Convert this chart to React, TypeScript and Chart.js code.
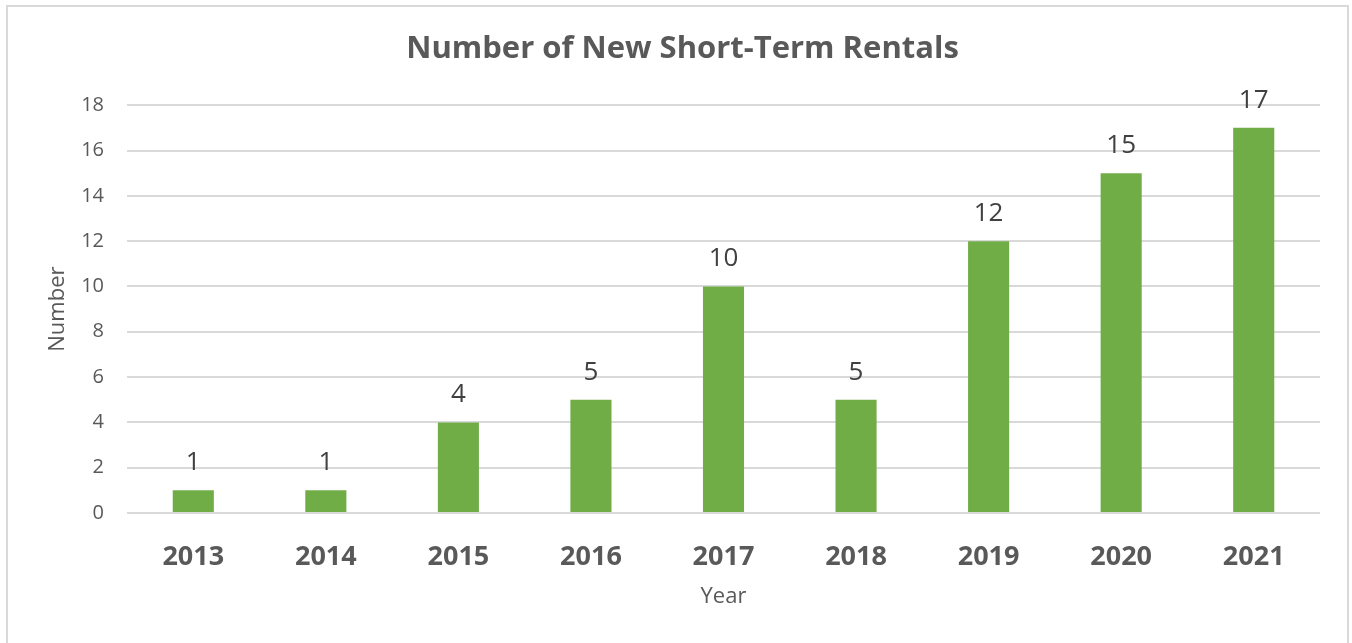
import React, { useEffect, useRef } from "react";
import { Chart, registerables } from "chart.js";

Chart.register(...registerables);

const years = ["2013", "2014", "2015", "2016", "2017", "2018", "2019", "2020", "2021"];
const counts = [1, 1, 4, 5, 10, 5, 12, 15, 17];
const yTicks = { min: 0, max: 18, step: 2 };
const titleText = "Number of New Short-Term Rentals";
const xTitle = "Year";
const yTitle = "Number";

const FONT = "'Open Sans', 'DejaVu Sans', sans-serif";

const dataLabels = {
  id: "dataLabels",
  afterDatasetsDraw(chart: any) {
    const ctx = chart.ctx;
    const meta = chart.getDatasetMeta(0);
    ctx.save();
    ctx.font = `26px ${FONT}`;
    ctx.fillStyle = "#404040";
    ctx.textAlign = "center";
    ctx.textBaseline = "alphabetic";
    meta.data.forEach((bar: any, i: number) => {
      ctx.fillText(String(chart.data.datasets[0].data[i]), bar.x, bar.y - 20);
    });
    ctx.restore();
  },
};

export default function App() {
  const ref = useRef<HTMLCanvasElement>(null);
  useEffect(() => {
    if (!ref.current) return;
    const chart = new Chart(ref.current, {
      type: "bar",
      data: {
        labels: years,
        datasets: [
          {
            data: counts,
            backgroundColor: "#70AD47",
            barPercentage: 0.31,
            categoryPercentage: 1,
          },
        ],
      },
      plugins: [dataLabels],
      options: {
        responsive: false,
        animation: false,
        layout: { padding: { left: 45, right: 32, top: 0, bottom: 31 } },
        plugins: {
          legend: { display: false },
          tooltip: { enabled: false },
          title: {
            display: true,
            text: titleText,
            color: "#595959",
            font: { family: FONT, size: 31, weight: "bold", lineHeight: 1.2 },
            padding: { top: 31, bottom: 37 },
          },
        },
        scales: {
          x: {
            grid: { display: false },
            border: { display: false },
            ticks: {
              color: "#595959",
              font: { family: FONT, size: 27, weight: "bold" },
              padding: 20,
              maxRotation: 0,
            },
            title: {
              display: true,
              text: xTitle,
              color: "#595959",
              font: { family: FONT, size: 22 },
              padding: { top: 0, bottom: 2 },
            },
            afterFit: (s: any) => {
              s.height = 99;
            },
          },
          y: {
            min: yTicks.min,
            max: yTicks.max,
            grid: { color: "#D9D9D9", lineWidth: 2, drawTicks: false },
            border: { display: false },
            ticks: {
              stepSize: yTicks.step,
              color: "#595959",
              font: { family: FONT, size: 20 },
              padding: 23,
            },
            title: {
              display: true,
              text: yTitle,
              color: "#595959",
              font: { family: FONT, size: 22 },
              padding: 0,
            },
            afterFit: (s: any) => {
              s.width = 82;
            },
          },
        },
      },
    });
    return () => chart.destroy();
  }, []);

  return (
    <div style={{ position: "absolute", left: 0, top: 0, width: 1352, height: 643, overflow: "hidden", background: "#fff" }}>
      <div
        style={{
          position: "absolute",
          left: 6,
          top: 5,
          width: 1339,
          height: 700,
          border: "2px solid #D9D9D9",
        }}
      />
      <canvas ref={ref} width={1352} height={643} style={{ position: "absolute", left: 0, top: 0 }} />
    </div>
  );
}
